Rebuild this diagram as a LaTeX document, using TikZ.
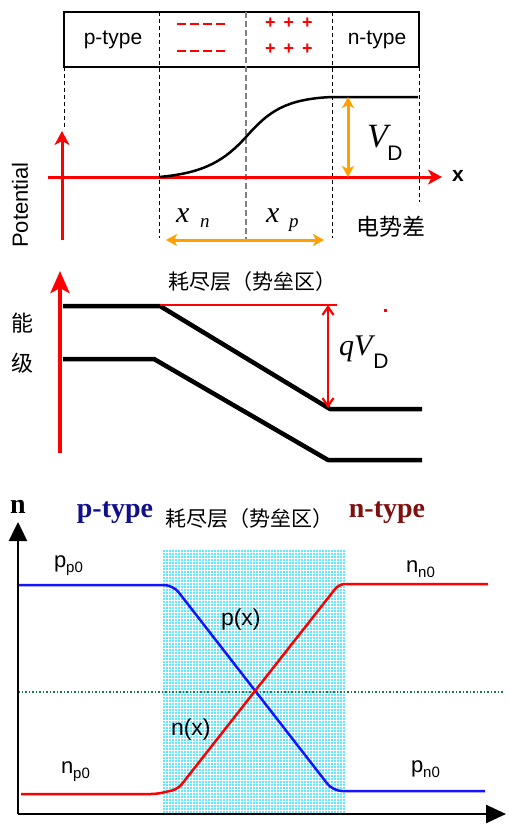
\documentclass[tikz,border=0pt]{standalone}
\usepackage{fontspec}
\setmainfont{Liberation Serif}
\setsansfont{Liberation Sans}
\newfontfamily\cjk{Noto Sans CJK SC}
\usetikzlibrary{arrows.meta}
\definecolor{ored}{RGB}{255,0,0}
\definecolor{orng}{RGB}{255,160,0}
\definecolor{navyc}{RGB}{16,16,140}
\definecolor{dredc}{RGB}{128,16,16}
\definecolor{cyanf}{RGB}{100,232,255}
\definecolor{dgreen}{RGB}{30,120,80}
\definecolor{pblue}{RGB}{20,20,255}
\newcommand{\fsz}[1]{\fontsize{#1}{#1}\selectfont}
\begin{document}
\begin{tikzpicture}[x=1pt,y=-1pt,
  every node/.style={inner sep=0pt,outer sep=0pt},
  divline/.style={black,line width=0.8pt,dash pattern=on 4pt off 3pt},
  midline/.style={gray,line width=1.2pt,dash pattern=on 6pt off 3pt},
  redaxis/.style={ored,line width=3pt,-{Stealth[length=14pt,width=15pt,inset=4pt]}},
  orarrow/.style={orng,line width=3pt,{Stealth[length=11pt,width=12pt,inset=3pt]}-{Stealth[length=11pt,width=12pt,inset=3pt]}},
  band/.style={black,line width=4.5pt,line join=round},
  minusrow/.style={ored,line width=2.2pt,dash pattern=on 9pt off 4pt},
  sanslbl/.style={font=\sffamily\fsz{21}},
  cjklbl/.style={font=\cjk\fsz{21}},
  curve/.style={line width=2.5pt,rounded corners=9pt,line join=round}]
\useasboundingbox (0,0) rectangle (510,836);
\fill[white] (0,0) rectangle (510,836);

% ---------- top box ----------
\draw[line width=2pt] (64,12) rectangle (419,67);
\draw[divline] (159,12) -- (159,238);
\draw[midline] (246,12) -- (246,240);
\draw[divline] (332,12) -- (332,238);
\draw[divline] (64,67) -- (64,130);
\draw[divline] (419,67) -- (419,202);
\node[sanslbl] (ptype) at (113,40) {p-type};
\node[sanslbl] (ntype) at (377,40) {n-type};
\coordinate (mA0) at (177,24);
\coordinate (mA1) at (225,24);
\coordinate (mB0) at (177,51);
\coordinate (mB1) at (225,51);
\draw[minusrow] (mA0) -- (mA1);
\draw[minusrow] (mB0) -- (mB1);
\node[font=\sffamily\bfseries\fsz{18},text=ored] (plA) at (289,23) {+\hspace{8pt}+\hspace{8pt}+};
\node[font=\sffamily\bfseries\fsz{18},text=ored] (plB) at (289,49) {+\hspace{8pt}+\hspace{8pt}+};

% ---------- potential ----------
\coordinate (xl) at (48,177);
\coordinate (xr) at (442,177);
\coordinate (yb) at (62,240);
\coordinate (yt) at (62,131);
\draw[redaxis] (xl) -- (xr);
\draw[redaxis] (yb) -- (yt);
\node[font=\sffamily\bfseries\fsz{21}] (xlab) at (458,176) {x};
\node[font=\sffamily\fsz{22},rotate=90] (pot) at (20,205) {Potential};
\coordinate (c0) at (159,177);
\coordinate (c1) at (246,137);
\coordinate (c2) at (332,97);
\coordinate (c3) at (418,97);
\draw[black,line width=2.5pt] (c0) .. controls (205,173) and (225,160) .. (c1)
   .. controls (268,112) and (285,99) .. (c2) -- (c3);
\coordinate (vdt) at (348,97);
\coordinate (vdb) at (348,177);
\draw[orarrow] (vdt) -- (vdb);
\node[font=\itshape\fsz{34},anchor=base west] (vd) at (367,147) {V};
\node[font=\sffamily\fsz{21}] (vdD) at (395,153) {D};
\node[font=\itshape\fsz{30},anchor=base west] (xn) at (176,222) {x};
\node[font=\itshape\fsz{19},anchor=base west] (xnn) at (200,227) {n};
\node[font=\itshape\fsz{30},anchor=base west] (xp) at (266,222) {x};
\node[font=\itshape\fsz{19},anchor=base west] (xpp) at (289,227) {p};
\coordinate (hl) at (166,240);
\coordinate (hr) at (324,240);
\draw[orarrow] (hl) -- (hr);
\node[font=\cjk\fsz{23}] (dsc) at (391,227) {电势差};

% ---------- energy levels ----------
\coordinate (eb) at (60,453);
\coordinate (et) at (60,271);
\draw[ored,line width=4.5pt,-{Stealth[length=22pt,width=19pt,inset=5pt]}] (eb) -- (et);
\node[font=\cjk\fsz{22}] (neng) at (23,323) {能};
\node[font=\cjk\fsz{22}] (nji) at (23,363) {级};
\node[cjklbl] (hj1) at (252,282) {耗尽层（势垒区）};
\coordinate (u0) at (63,306);
\coordinate (u1) at (160,306);
\coordinate (u2) at (330,409);
\coordinate (u3) at (422,409);
\draw[band] (u0) -- (u1) -- (u2) -- (u3);
\coordinate (l0) at (63,359);
\coordinate (l1) at (154,359);
\coordinate (l2) at (328,460);
\coordinate (l3) at (422,460);
\draw[band] (l0) -- (l1) -- (l2) -- (l3);
\coordinate (rl0) at (160,305);
\coordinate (rl1) at (337,305);
\draw[ored,line width=2pt] (rl0) -- (rl1);
\coordinate (qa) at (328,305);
\coordinate (qb) at (328,408);
\draw[ored,line width=2.2pt,{Straight Barb[length=8pt,width=11pt]}-{Straight Barb[length=8pt,width=11pt]}] (qa) -- (qb);
\node[font=\itshape\fsz{30},anchor=base west] (qv) at (339,355) {qV};
\node[font=\sffamily\fsz{21}] (qvD) at (381,361) {D};
\fill[ored] (384,309) rectangle (387,312);

% ---------- carrier concentration ----------
\fill[cyanf] (163,549) rectangle (346,813);
\draw[white,line width=0.5pt,step=3pt] (163,549) grid (346,813);
\coordinate (g0) at (18,692);
\coordinate (g1) at (504,692);
\draw[dgreen,line width=1.8pt,dash pattern=on 1.5pt off 2pt] (g0) -- (g1);
\coordinate (b0) at (18,585);
\coordinate (b1) at (173,585);
\coordinate (b2) at (333,791);
\coordinate (b3) at (485,791);
\draw[curve,pblue] (b0) -- (b1) -- (b2) -- (b3);
\coordinate (r0) at (21,794);
\coordinate (r1) at (157,794);
\coordinate (r2) at (178,789);
\coordinate (r3) at (339,584);
\coordinate (r4) at (488,584);
\draw[curve,ored,rounded corners=6pt] (r0) -- (r1) -- (r2) -- (r3) -- (r4);
\coordinate (o) at (18,814);
\coordinate (ay) at (18,522);
\coordinate (ax) at (506,814);
\draw[black,line width=2.5pt,-{Triangle[length=19pt,width=18pt]}] (o) -- (ay);
\draw[black,line width=2.5pt,-{Triangle[length=20pt,width=18pt]}] (o) -- (ax);
\node[font=\bfseries\fsz{28},anchor=base] (nax) at (18,513) {n};
\node[font=\bfseries\fsz{28},text=navyc,anchor=base] (ptyb) at (115,517) {p-type};
\node[font=\bfseries\fsz{28},text=dredc,anchor=base] (ntyb) at (387,517) {n-type};
\node[cjklbl] (hj2) at (249,519) {耗尽层（势垒区）};
\node[font=\sffamily\fsz{22},anchor=base west] (pp0) at (54,567) {p\raisebox{-5pt}{\fsz{15}p0}};
\node[font=\sffamily\fsz{22},anchor=base west] (nn0) at (406,572) {n\raisebox{-5pt}{\fsz{15}n0}};
\node[font=\sffamily\fsz{22},anchor=base west] (np0) at (61,773) {n\raisebox{-5pt}{\fsz{15}p0}};
\node[font=\sffamily\fsz{22},anchor=base west] (pn0) at (411,772) {p\raisebox{-5pt}{\fsz{15}n0}};
\node[font=\sffamily\fsz{23},anchor=base west] (px) at (221,625) {p(x)};
\node[font=\sffamily\fsz{23},anchor=base west] (nx) at (171,735) {n(x)};
\end{tikzpicture}
\end{document}
